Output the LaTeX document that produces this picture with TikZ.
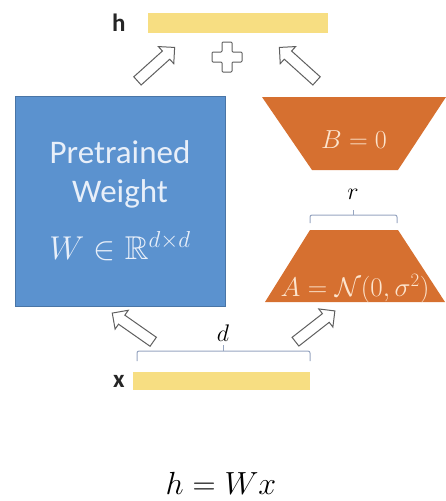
\documentclass[tikz,border=0pt]{standalone}
\usepackage{fix-cm}
\usepackage{amsmath,amssymb}
\usepackage[no-math]{fontspec}
\setmainfont{Carlito}
\usetikzlibrary{positioning, shapes.geometric, shapes.arrows}

\definecolor{wblue}{RGB}{91,146,207}
\definecolor{wtext}{RGB}{232,239,249}
\definecolor{lorange}{RGB}{214,112,48}
\definecolor{otext}{RGB}{252,228,205}
\definecolor{vyellow}{RGB}{247,222,130}
\definecolor{agray}{RGB}{95,95,95}
\definecolor{bgray}{RGB}{150,165,192}

\begin{document}
\begin{tikzpicture}[x=1pt, y=1pt,
  weightbox/.style={
    draw=wblue!80!black, fill=wblue,
    minimum width=210pt, minimum height=210pt,
    align=center, text=wtext, font=\fontsize{33}{39}\selectfont
  },
  lowrank/.style={fill=lorange},
  vecbar/.style={fill=vyellow, minimum height=20pt, inner sep=0pt},
  hollowarr/.style={
    single arrow, draw=agray, fill=white, line width=1pt,
    minimum height=50pt, minimum width=23pt, inner sep=5pt,
    single arrow head extend=6pt, single arrow head indent=0pt
  },
  veclbl/.style={font=\bfseries\fontsize{25}{25}\selectfont, text=black!85, inner sep=0pt},
  mathlbl/.style={font=\fontsize{24}{24}\selectfont, inner sep=0pt},
  brc/.style={draw=bgray, line width=1pt, rounded corners=2pt}
]
  \useasboundingbox (0,0) rectangle (446,-501);

  % vectors
  \node[vecbar, minimum width=180pt] (hbar) at (238,-23) {};
  \node[veclbl, left=22pt of hbar] (hlbl) {h};
  \node[vecbar, minimum width=177pt, minimum height=18pt] (xbar) at (221.5,-381) {};
  \node[veclbl, left=8pt of xbar] (xlbl) {x};

  % weights
  \node[weightbox] (W) at (120,-201)
    {Pretrained\\Weight\\[18pt]{\fontsize{33}{33}\selectfont$W \in \mathbb{R}^{d\times d}$}};
  \fill[lowrank] (262,-97) -- (446,-97) -- (398,-170) -- (312,-170) -- cycle;
  \fill[lowrank] (310,-230) -- (398,-230) -- (445,-302) -- (265,-302) -- cycle;
  \node[mathlbl, text=otext, font=\fontsize{26}{26}\selectfont] (Btxt) at (354,-140) {$B = 0$};
  \node[mathlbl, text=otext, font=\fontsize{27}{27}\selectfont] (Atxt) at (355,-289) {$A = \mathcal{N}(0,\sigma^2)$};

  % ranks
  \draw[brc] (137,-361) |- (310,-351) -- (310,-361);
  \draw[brc] (223,-351) -- (223,-345);
  \node[mathlbl] (dlbl) at (223,-333) {$d$};
  \draw[brc] (310,-223) |- (397,-215) -- (397,-223);
  \draw[brc] (353,-215) -- (353,-210);
  \node[mathlbl] (rlbl) at (353,-194) {$r$};

  % flow
  \node[hollowarr, rotate=42] (upW) at (154,-66) {};
  \node[hollowarr, rotate=138] (upB) at (300,-66) {};
  \coordinate (plus) at (227,-57);
  \draw[agray, fill=white, line width=1pt, rounded corners=1pt, shift={(plus)}]
    (-5,15) -- (5,15) -- (5,5) -- (15,5) -- (15,-5) -- (5,-5) -- (5,-15)
    -- (-5,-15) -- (-5,-5) -- (-15,-5) -- (-15,5) -- (-5,5) -- cycle;
  \node[hollowarr, rotate=145] (inW) at (135,-329) {};
  \node[hollowarr, rotate=38] (inA) at (313,-328) {};

  \node[font=\fontsize{32}{32}\selectfont] (eq) at (221,-483) {$h = Wx$};
\end{tikzpicture}
\end{document}
